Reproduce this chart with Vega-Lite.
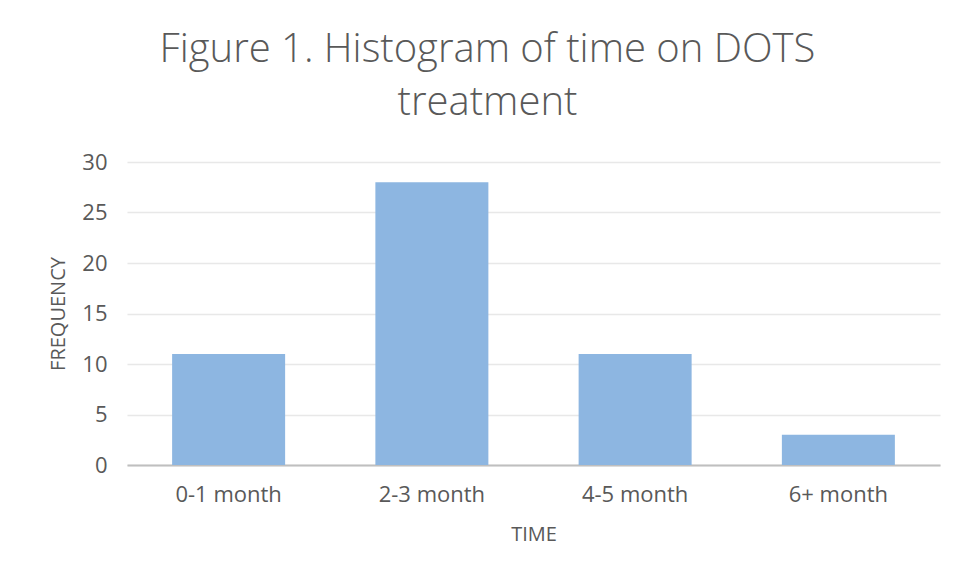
{
  "$schema": "https://vega.github.io/schema/vega-lite/v6.json",
  "autosize": "none",
  "width": 813,
  "height": 303,
  "padding": {"left": 127, "top": 162, "right": 19, "bottom": 112},
  "background": "white",
  "title": {
    "text": ["Figure 1. Histogram of time on DOTS", "treatment"],
    "font": "Open Sans",
    "fontWeight": 300,
    "fontSize": 40,
    "lineHeight": 53,
    "color": "#595959",
    "anchor": "middle",
    "dx": -46,
    "offset": 28
  },
  "data": {
    "values": [
      {"time": "0-1 month", "frequency": 11},
      {"time": "2-3 month", "frequency": 28},
      {"time": "4-5 month", "frequency": 11},
      {"time": "6+ month", "frequency": 3}
    ]
  },
  "mark": {"type": "bar", "color": "#8db6e1"},
  "encoding": {
    "x": {
      "field": "time",
      "type": "nominal",
      "sort": null,
      "scale": {"paddingInner": 0.444, "paddingOuter": 0.222},
      "axis": {
        "title": "TIME",
        "labelAngle": 0,
        "labelFont": "Open Sans",
        "labelFontSize": 22,
        "labelColor": "#595959",
        "labelPadding": 19,
        "ticks": false,
        "domainColor": "#bfbfbf",
        "domainWidth": 2,
        "titleFont": "Open Sans",
        "titleFontSize": 20,
        "titleFontWeight": "normal",
        "titleColor": "#595959",
        "titlePadding": 19,
        "grid": false
      }
    },
    "y": {
      "field": "frequency",
      "type": "quantitative",
      "scale": {"domain": [0, 30]},
      "axis": {
        "title": "FREQUENCY",
        "values": [0, 5, 10, 15, 20, 25, 30],
        "labelFont": "Open Sans",
        "labelFontSize": 22,
        "labelColor": "#595959",
        "labelPadding": 20,
        "ticks": false,
        "domain": false,
        "gridColor": "#e8e8e8",
        "gridWidth": 1.5,
        "titleFont": "Open Sans",
        "titleFontSize": 20,
        "titleFontWeight": "normal",
        "titleColor": "#595959",
        "titlePadding": 13
      }
    }
  },
  "config": {"view": {"stroke": null}}
}
